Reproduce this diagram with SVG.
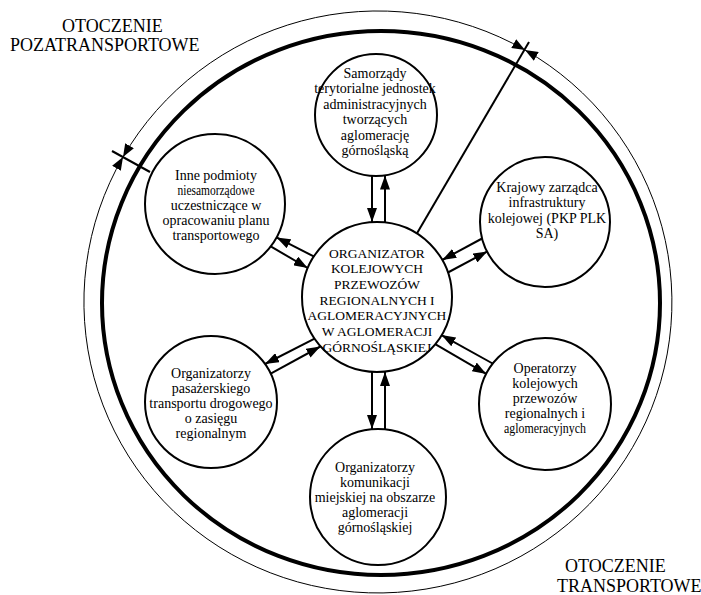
<svg xmlns="http://www.w3.org/2000/svg" width="701" height="595" viewBox="0 0 701 595">
<defs>
<style>
.node circle{fill:#fff;stroke:#000;stroke-width:2}
.node text{font-family:"Liberation Serif","Times New Roman",serif;font-size:14px;text-anchor:middle;fill:#000}
#center text{font-size:13.5px}
.conn line{stroke:#000;stroke-width:2;marker-end:url(#ah)}
.thick{fill:none;stroke:#000;stroke-width:4}
.thin{fill:none;stroke:#000;stroke-width:1;marker-start:url(#tip);marker-end:url(#tip)}
.bline{stroke:#000;stroke-width:2}
.label{font-family:"Liberation Serif","Times New Roman",serif;font-size:18px;fill:#000}
</style>
<marker id="ah" viewBox="0 0 14 10" refX="14" refY="5" markerWidth="14" markerHeight="10" markerUnits="userSpaceOnUse" orient="auto"><path d="M0,0 L14,5 L0,10 z"/></marker>
<marker id="tip" viewBox="0 0 13 10" refX="13" refY="5" markerWidth="13" markerHeight="10" markerUnits="userSpaceOnUse" orient="auto-start-reverse"><path d="M0,0 L13,5 L0,10 z"/></marker>
</defs>
<rect width="701" height="595" fill="#fff"/>
<g id="boundary">
<ellipse class="thick" cx="381" cy="303" rx="279" ry="272"/>
<path class="thin" d="M123,157 A294,291 0 0 1 525,50"/>
<path class="thin" d="M525,50 A294,291 0 1 1 123,157"/>
<line class="bline" x1="112" y1="151" x2="150" y2="172"/>
<line class="bline" x1="416" y1="235" x2="529" y2="42"/>
</g>
<g id="labels">
<text class="label" x="62" y="32">OTOCZENIE</text>
<text class="label" x="10" y="51">POZATRANSPORTOWE</text>
<text class="label" x="565" y="572">OTOCZENIE</text>
<text class="label" x="557" y="592">TRANSPORTOWE</text>
</g>
<g id="connectors" class="conn">
<line x1="372" y1="176" x2="372" y2="222"/>
<line x1="385" y1="222" x2="385" y2="175.5"/>
<line x1="372" y1="372" x2="372" y2="429"/>
<line x1="385" y1="429" x2="385" y2="372"/>
<line x1="483" y1="238" x2="442.2" y2="260"/>
<line x1="447" y1="273" x2="487.4" y2="251.4"/>
<line x1="492.6" y1="363.5" x2="441.5" y2="335.1"/>
<line x1="435.2" y1="344.2" x2="486.3" y2="373.9"/>
<line x1="314.6" y1="338.6" x2="265" y2="364"/>
<line x1="270.7" y1="373.7" x2="320.4" y2="346.5"/>
<line x1="313.7" y1="256.4" x2="276.5" y2="237.4"/>
<line x1="270.7" y1="246.4" x2="307.7" y2="268"/>
</g>
<g id="samorzady" class="node">
<circle cx="376" cy="115" r="61"/>
<text x="375" y="78">Samorządy</text>
<text x="375" y="93.4">terytorialne jednostek</text>
<text x="375" y="108.8">administracyjnych</text>
<text x="375" y="124.2">tworzących</text>
<text x="375" y="139.6">aglomerację</text>
<text x="375" y="155">górnośląską</text>
</g>
<g id="inne" class="node">
<circle cx="215" cy="204" r="70"/>
<text x="216" y="180">Inne podmioty</text>
<text x="216" y="195" textLength="77" lengthAdjust="spacingAndGlyphs">niesamorządowe</text>
<text x="216" y="210">uczestniczące w</text>
<text x="216" y="225">opracowaniu planu</text>
<text x="216" y="240">transportowego</text>
</g>
<g id="krajowy" class="node">
<circle cx="545" cy="222" r="65"/>
<text x="547" y="192">Krajowy zarządca</text>
<text x="547" y="207.3">infrastruktury</text>
<text x="547" y="222.6">kolejowej (PKP PLK</text>
<text x="547" y="238">SA)</text>
</g>
<g id="center" class="node">
<circle cx="377" cy="297" r="75"/>
<text x="377" y="257.6">ORGANIZATOR</text>
<text x="377" y="273.3">KOLEJOWYCH</text>
<text x="377" y="289">PRZEWOZÓW</text>
<text x="377" y="304.7">REGIONALNYCH I</text>
<text x="377" y="320.4">AGLOMERACYJNYCH</text>
<text x="377" y="336">W AGLOMERACJI</text>
<text x="377" y="351.8">GÓRNOŚLĄSKIEJ</text>
</g>
<g id="pasazerski" class="node">
<circle cx="211" cy="402" r="66"/>
<text x="211" y="378">Organizatorzy</text>
<text x="211" y="393">pasażerskiego</text>
<text x="211" y="408">transportu drogowego</text>
<text x="211" y="423">o zasięgu</text>
<text x="211" y="438">regionalnym</text>
</g>
<g id="operatorzy" class="node">
<circle cx="545" cy="404" r="66"/>
<text x="545" y="373">Operatorzy</text>
<text x="545" y="388">kolejowych</text>
<text x="545" y="403">przewozów</text>
<text x="545" y="418">regionalnych i</text>
<text x="545" y="433" textLength="82" lengthAdjust="spacingAndGlyphs">aglomeracyjnych</text>
</g>
<g id="komunikacja" class="node">
<circle cx="378" cy="497" r="68"/>
<text x="375" y="472">Organizatorzy</text>
<text x="375" y="487">komunikacji</text>
<text x="375" y="502">miejskiej na obszarze</text>
<text x="375" y="517">aglomeracji</text>
<text x="375" y="532">górnośląskiej</text>
</g>
</svg>
